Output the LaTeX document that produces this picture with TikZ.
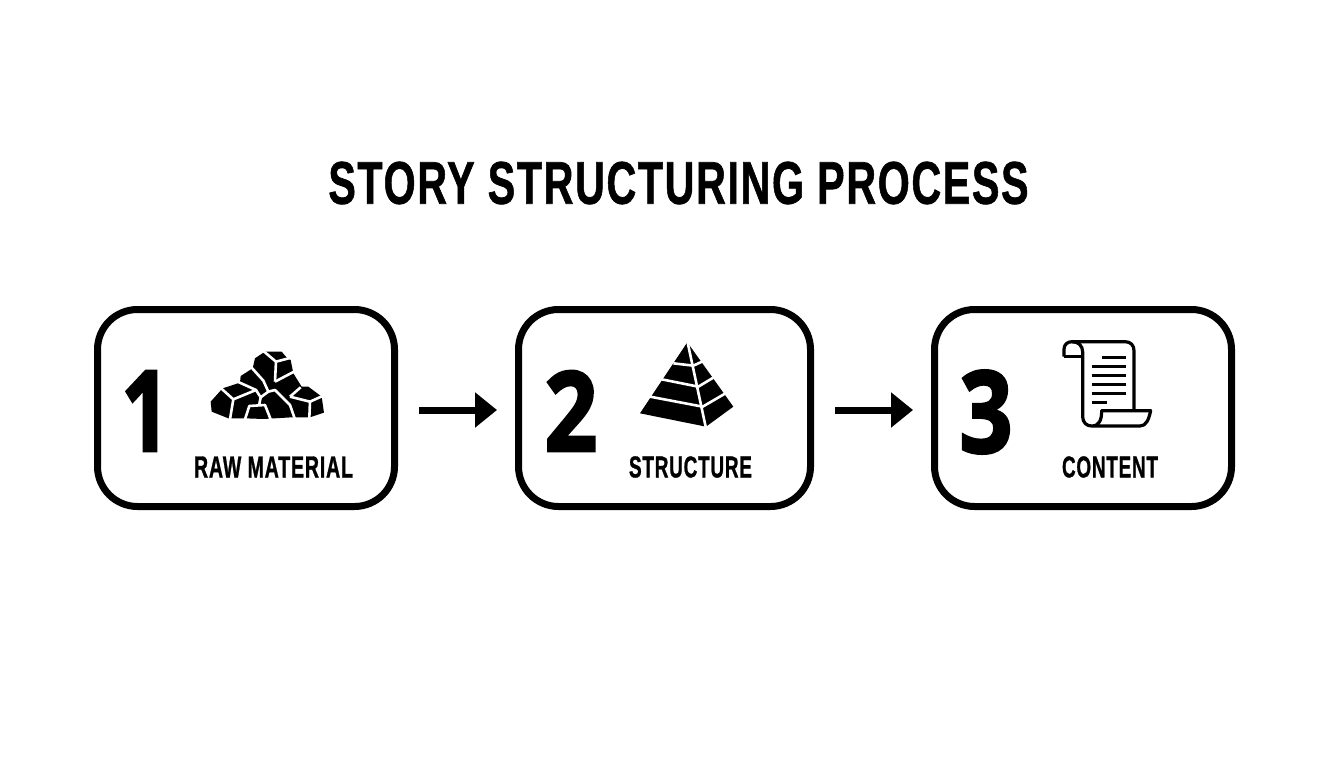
\documentclass[tikz,border=0pt]{standalone}
\usepackage{fontspec}
\usepackage{graphicx}
\setmainfont{Liberation Sans}
\newfontfamily\headfont[LetterSpace=4,FakeBold=1.2]{Liberation Sans Bold}
\newfontfamily\numfont[FakeBold=2.5]{Open Sans Bold}
\usetikzlibrary{arrows.meta}
\tikzset{
  stepbox/.style={draw=black,line width=7pt,rounded corners=40pt,minimum width=297pt,minimum height=197pt,fill=white,inner sep=0pt},
  flow/.style={line width=7pt,-{Triangle[length=22pt,width=34pt]},shorten <=21pt,shorten >=18pt},
  txt/.style={inner sep=0pt,outer sep=0pt,text=black},
  cut/.style={draw=white,line width=2.6pt,line join=round,line cap=butt},
  rule/.style={draw=black,line width=3.2pt,line join=round}
}
\newcommand{\fit}[3]{\resizebox{#1pt}{#2pt}{#3}}
\begin{document}
\begin{tikzpicture}[x=1pt,y=-1pt]
\useasboundingbox[fill=white] (0,0) rectangle (1344,768);
\node[txt] (title) at (678.5,183) {\fit{700}{42}{\headfont STORY STRUCTURING PROCESS}};
\node[stepbox] (b1) at (246,408) {};
\node[stepbox,minimum width=292pt] (b2) at (664.5,408) {};
\node[stepbox] (b3) at (1083,408) {};
\draw[flow] ([yshift=-2pt]b1.east) -- ([yshift=-2pt]b2.west);
\draw[flow] ([yshift=-2pt]b2.east) -- ([yshift=-2pt]b3.west);
\node[txt] (n1) at (145.5,411) {\fit{48}{80}{\numfont 1}};
\node[txt] (n2) at (571,411) {\fit{53}{80}{\numfont 2}};
\node[txt] (n3) at (986,412) {\fit{53}{82}{\numfont 3}};
\node[txt] (l1) at (273.5,467) {\fit{159}{21}{\headfont RAW MATERIAL}};
\node[txt] (l2) at (690.5,467) {\fit{123}{21}{\headfont STRUCTURE}};
\node[txt] (l3) at (1110,467) {\fit{96}{21}{\headfont CONTENT}};
% rock pile
\begin{scope}[shift={(200,340)},x=0.3333pt,y=-0.3333pt]
\fill[black,line join=round] (32,185) -- (68,145) -- (120,128) -- (122,108) -- (158,85) -- (165,55) -- (195,35) -- (245,35) -- (262,55) -- (272,60) -- (280,100) -- (305,140) -- (325,140) -- (365,170) -- (372,218) -- (330,232) -- (275,232) -- (190,237) -- (135,235) -- (85,235) -- (35,215) -- cycle;
\draw[cut] (60,142) -- (100,178) -- (168,150);
\draw[cut] (100,178) -- (90,238);
\draw[cut] (115,126) -- (168,150) -- (182,172) -- (178,192);
\draw[cut] (155,83) -- (190,122) -- (205,155);
\draw[cut] (190,33) -- (228,65) -- (225,125);
\draw[cut] (228,65) -- (270,54);
\draw[cut] (225,125) -- (282,95);
\draw[cut] (182,172) -- (205,155) -- (225,150) -- (270,195) -- (285,238);
\draw[cut] (270,170) -- (302,142);
\draw[cut] (270,170) -- (330,185) -- (368,168);
\draw[cut] (330,185) -- (328,235);
\draw[cut] (135,238) -- (148,198) -- (195,195) -- (212,238);
\end{scope}
% pyramid
\begin{scope}[shift={(630,335)},x=0.3333pt,y=-0.3333pt]
\fill[black] (172,22) -- (310,215) -- (228,275) -- (30,235) -- cycle;
\draw[cut] (172,18) -- (228,280);
\draw[cut] (130,85) -- (190,92) -- (216,80);
\draw[cut] (95,133) -- (205,155) -- (250,128);
\draw[cut] (60,185) -- (218,215) -- (285,176);
\end{scope}
% scroll
\begin{scope}[shift={(1050,330)},x=0.3333pt,y=-0.3333pt]
\draw[rule] (42,80) -- (42,58) .. controls (42,44) and (52,35) .. (66,35) -- (225,35) .. controls (242,35) and (252,46) .. (252,62) -- (252,242);
\draw[rule] (66,35) .. controls (86,35) and (98,48) .. (98,66) -- (98,260) .. controls (98,278) and (110,288) .. (125,288) -- (270,288) .. controls (288,288) and (296,270) .. (302,242) -- (155,242) .. controls (155,270) and (148,288) .. (125,288);
\draw[rule] (42,80) -- (98,80);
\draw[rule] (157,82) -- (227,82);
\draw[rule] (125,110) -- (227,110);
\draw[rule] (125,137) -- (227,137);
\draw[rule] (125,163) -- (227,163);
\draw[rule] (125,190) -- (227,190);
\draw[rule] (125,217) -- (172,217);
\end{scope}
\end{tikzpicture}
\end{document}
